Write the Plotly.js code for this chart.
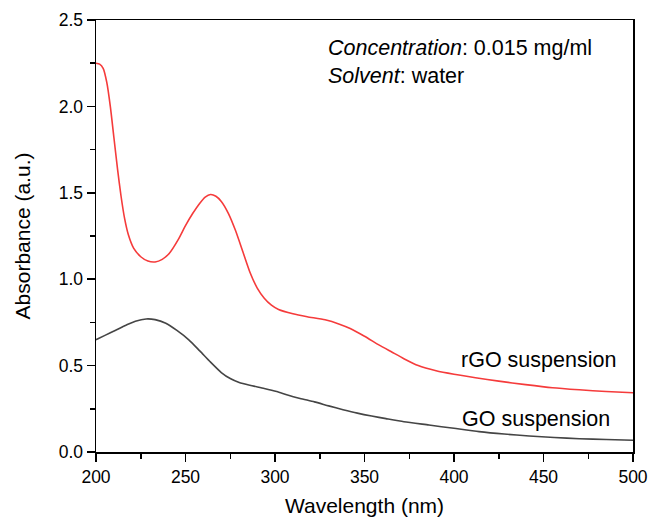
<!DOCTYPE html>
<html>
<head>
<meta charset="utf-8">
<script src="https://cdn.plot.ly/plotly-3.0.1.min.js"></script>
<style>
  html, body { margin: 0; padding: 0; background: #ffffff; }
  #chart { width: 650px; height: 521px; }
</style>
</head>
<body>
<div id="chart"></div>
<script>
// UV-vis absorbance spectra of reduced and pristine graphene oxide suspensions
const rgoWavelength = [200, 202, 204, 206, 208, 210, 212, 214, 216, 218, 221, 225, 229, 233, 237, 241, 246, 250, 254, 258, 261, 264, 267, 270, 274, 278, 282, 286, 290, 294, 298, 302, 310, 318, 328, 336, 342, 350, 358, 365, 372, 380, 390, 400, 412, 425, 440, 455, 470, 485, 500];
const rgoAbsorbance = [2.25, 2.245, 2.22, 2.14, 2.00, 1.82, 1.64, 1.48, 1.35, 1.26, 1.18, 1.13, 1.105, 1.10, 1.115, 1.15, 1.23, 1.31, 1.38, 1.44, 1.475, 1.49, 1.48, 1.45, 1.38, 1.28, 1.16, 1.04, 0.95, 0.89, 0.85, 0.825, 0.80, 0.783, 0.765, 0.74, 0.715, 0.67, 0.62, 0.58, 0.54, 0.50, 0.47, 0.45, 0.43, 0.41, 0.39, 0.372, 0.36, 0.35, 0.343];

const goWavelength = [200, 205, 211, 217, 222, 228, 233, 239, 245, 252, 258, 264, 270, 275, 280, 286, 294, 301, 307, 314, 322, 330, 338, 346, 354, 362, 372, 386, 400, 414, 428, 442, 456, 470, 485, 500];
const goAbsorbance = [0.650, 0.675, 0.705, 0.735, 0.757, 0.770, 0.766, 0.745, 0.705, 0.648, 0.585, 0.52, 0.46, 0.425, 0.402, 0.386, 0.368, 0.350, 0.33, 0.31, 0.29, 0.267, 0.245, 0.225, 0.208, 0.193, 0.175, 0.156, 0.137, 0.118, 0.104, 0.093, 0.084, 0.077, 0.072, 0.068];

const seriesLabels = ['rGO suspension', 'GO suspension'];
const xTickValues = [200, 250, 300, 350, 400, 450, 500];
const yTickValues = [0.0, 0.5, 1.0, 1.5, 2.0, 2.5];

const FONT = 'Liberation Sans, Arial, Helvetica, sans-serif';

const traces = [
  {
    x: rgoWavelength, y: rgoAbsorbance, name: seriesLabels[0],
    type: 'scatter', mode: 'lines',
    line: { color: '#f53b3b', width: 1.6, shape: 'spline', smoothing: 0.6 }
  },
  {
    x: goWavelength, y: goAbsorbance, name: seriesLabels[1],
    type: 'scatter', mode: 'lines',
    line: { color: '#454545', width: 1.6, shape: 'spline', smoothing: 0.6 }
  }
];

const axisCommon = {
  showgrid: false,
  zeroline: false,
  showline: true,
  linecolor: '#000',
  linewidth: 1.5,
  mirror: true,
  ticks: 'outside',
  ticklen: 8,
  tickwidth: 1.5,
  tickcolor: '#000',
  tickfont: { family: FONT, size: 17.5, color: '#000' }
};

const layout = {
  width: 650,
  height: 521,
  margin: { l: 96, r: 17, t: 20, b: 69 },
  paper_bgcolor: '#fff',
  plot_bgcolor: '#fff',
  showlegend: false,
  xaxis: Object.assign({}, axisCommon, {
    range: [200, 500],
    tickvals: xTickValues,
    ticktext: xTickValues.map(String),
    minor: { dtick: 25, tick0: 200, ticks: 'outside', ticklen: 5, tickwidth: 1.5, tickcolor: '#000' },
    title: { text: 'Wavelength (nm)', font: { family: FONT, size: 21, color: '#000' }, standoff: 13 }
  }),
  yaxis: Object.assign({}, axisCommon, {
    range: [0, 2.5],
    tickvals: yTickValues,
    ticktext: yTickValues.map(v => v.toFixed(1)),
    minor: { dtick: 0.25, tick0: 0, ticks: 'outside', ticklen: 5, tickwidth: 1.5, tickcolor: '#000' },
    title: { text: 'Absorbance (a.u.)', font: { family: FONT, size: 21, color: '#000' }, standoff: 22 }
  }),
  annotations: [
    {
      xref: 'paper', yref: 'paper', x: 0.428, y: 0.902,
      xanchor: 'left', yanchor: 'middle', align: 'left', showarrow: false,
      text: '<i>Concentration</i>: 0.015 mg/ml<br><i>Solvent</i>: water',
      font: { family: FONT, size: 21.5, color: '#000' }
    },
    {
      xref: 'x', yref: 'y', x: 491.5, y: 0.535,
      xanchor: 'right', yanchor: 'middle', showarrow: false,
      text: seriesLabels[0],
      font: { family: FONT, size: 21.5, color: '#000' }
    },
    {
      xref: 'x', yref: 'y', x: 488.5, y: 0.19,
      xanchor: 'right', yanchor: 'middle', showarrow: false,
      text: seriesLabels[1],
      font: { family: FONT, size: 21.5, color: '#000' }
    }
  ]
};

Plotly.newPlot('chart', traces, layout, { displayModeBar: false, staticPlot: true });
</script>
</body>
</html>
